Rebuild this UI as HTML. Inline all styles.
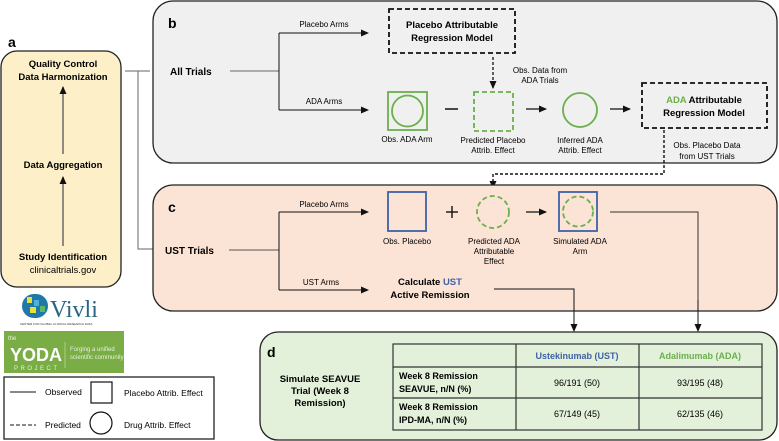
<!DOCTYPE html>
<html><head><meta charset="utf-8"><style>
html,body{margin:0;padding:0;background:#fff;}
svg{display:block;font-family:"Liberation Sans",Arial,sans-serif;}
.b{font-weight:bold;}
</style></head><body>
<svg width="779" height="441" viewBox="0 0 779 441" xmlns="http://www.w3.org/2000/svg">
<defs>
<marker id="ar" markerWidth="8" markerHeight="8" refX="7" refY="4" orient="auto" markerUnits="userSpaceOnUse"><path d="M0,0.5 L8,4 L0,7.5 z" fill="#111"/></marker>
</defs>
<!-- panel a -->
<rect x="1" y="51" width="120" height="236" rx="16" fill="#fdf0c9" stroke="#222" stroke-width="1.3"/>
<text x="8" y="47" font-size="14" class="b">a</text>
<text x="63" y="67" font-size="9.5" class="b" text-anchor="middle">Quality Control</text>
<text x="63" y="80" font-size="9.5" class="b" text-anchor="middle">Data Harmonization</text>
<line x1="63" y1="154" x2="63" y2="87" stroke="#555" stroke-width="1.3" marker-end="url(#ar)"/>
<text x="63" y="168" font-size="9.5" class="b" text-anchor="middle">Data Aggregation</text>
<line x1="63" y1="246" x2="63" y2="177" stroke="#555" stroke-width="1.3" marker-end="url(#ar)"/>
<text x="63" y="260" font-size="9.5" class="b" text-anchor="middle">Study Identification</text>
<text x="63" y="273" font-size="9.5" text-anchor="middle">clinicaltrials.gov</text>
<!-- connectors a to b/c -->
<polyline points="125,71 150,71" fill="none" stroke="#666" stroke-width="1"/>
<polyline points="138,71 138,249 153,249" fill="none" stroke="#666" stroke-width="1"/>
<!-- Vivli -->
<g>
<rect x="22" y="294" width="26" height="24" rx="12" fill="#1f78a8"/>
<rect x="27" y="297" width="5" height="6" fill="#e8e03a"/><rect x="34" y="300" width="5" height="6" fill="#4fb0d8"/><rect x="30" y="307" width="6" height="6" fill="#e8e03a"/><rect x="40" y="306" width="5" height="6" fill="#5db860"/>
<text x="50" y="317" font-size="24" fill="#2a6585" font-family="Liberation Serif,serif">Vivli</text>
<text x="20" y="325" font-size="3" fill="#333">CENTER FOR GLOBAL CLINICAL RESEARCH DATA</text>
</g>
<!-- YODA -->
<rect x="4" y="331" width="120" height="42" fill="#7aad45"/>
<text x="8" y="340" font-size="6" fill="#e8f2dc">the</text>
<text x="10" y="361" font-size="18" fill="#fff" class="b">YODA</text>
<text x="14" y="370" font-size="6" fill="#e8f2dc" letter-spacing="2.5">PROJECT</text>
<line x1="65" y1="342" x2="65" y2="368" stroke="#cfe3b8" stroke-width="0.6"/>
<text x="70" y="351" font-size="6" fill="#e8f2dc">Forging a unified</text>
<text x="70" y="359" font-size="6" fill="#e8f2dc">scientific community</text>
<!-- legend -->
<rect x="4" y="377" width="210" height="62" fill="#fff" stroke="#222" stroke-width="1.3"/>
<line x1="10" y1="392" x2="36" y2="392" stroke="#111" stroke-width="1"/>
<text x="45" y="395" font-size="8.5">Observed</text>
<rect x="91" y="382" width="21" height="21" fill="none" stroke="#111" stroke-width="1.2"/>
<text x="124" y="396" font-size="8.5">Placebo Attrib. Effect</text>
<line x1="10" y1="425" x2="36" y2="425" stroke="#111" stroke-width="1" stroke-dasharray="4,2"/>
<text x="45" y="428" font-size="8.5">Predicted</text>
<circle cx="101" cy="423" r="11" fill="none" stroke="#111" stroke-width="1.2"/>
<text x="124" y="428" font-size="8.5">Drug Attrib. Effect</text>

<!-- panel b -->
<rect x="153" y="1" width="624" height="162" rx="20" fill="#f0f0f0" stroke="#222" stroke-width="1.3"/>
<text x="168" y="28" font-size="14" class="b">b</text>
<text x="170" y="75" font-size="10" class="b">All Trials</text>
<line x1="230" y1="71" x2="279" y2="71" stroke="#666" stroke-width="1"/>
<line x1="279" y1="33" x2="279" y2="110" stroke="#111" stroke-width="1"/>
<line x1="279" y1="33" x2="368" y2="33" stroke="#111" stroke-width="1" marker-end="url(#ar)"/>
<line x1="279" y1="110" x2="368" y2="110" stroke="#111" stroke-width="1" marker-end="url(#ar)"/>
<text x="324" y="27" font-size="8" text-anchor="middle">Placebo Arms</text>
<text x="324" y="104" font-size="8" text-anchor="middle">ADA Arms</text>
<rect x="389" y="9" width="126" height="44" fill="none" stroke="#111" stroke-width="1.8" stroke-dasharray="5,3"/>
<text x="452" y="28" font-size="9.5" class="b" text-anchor="middle">Placebo Attributable</text>
<text x="452" y="41" font-size="9.5" class="b" text-anchor="middle">Regression Model</text>
<line x1="493" y1="57" x2="493" y2="88" stroke="#111" stroke-width="1.3" stroke-dasharray="3,2" marker-end="url(#ar)"/>
<text x="540" y="73" font-size="8" text-anchor="middle">Obs. Data from</text>
<text x="540" y="83" font-size="8" text-anchor="middle">ADA Trials</text>
<rect x="388" y="92" width="39" height="38" fill="none" stroke="#6ab04c" stroke-width="1.8"/>
<circle cx="407.5" cy="111" r="15.5" fill="none" stroke="#6ab04c" stroke-width="1.8"/>
<line x1="445" y1="109" x2="458" y2="109" stroke="#111" stroke-width="1.5"/>
<rect x="474" y="92" width="39" height="39" fill="none" stroke="#6ab04c" stroke-width="1.8" stroke-dasharray="5,3"/>
<line x1="526" y1="109" x2="546" y2="109" stroke="#111" stroke-width="1.3" marker-end="url(#ar)"/>
<circle cx="580" cy="110" r="17" fill="none" stroke="#6ab04c" stroke-width="1.8"/>
<line x1="610" y1="109" x2="630" y2="109" stroke="#111" stroke-width="1.3" marker-end="url(#ar)"/>
<text x="407" y="142" font-size="8" text-anchor="middle">Obs. ADA Arm</text>
<text x="493" y="143" font-size="8" text-anchor="middle">Predicted Placebo</text>
<text x="493" y="153" font-size="8" text-anchor="middle">Attrib. Effect</text>
<text x="580" y="143" font-size="8" text-anchor="middle">Inferred ADA</text>
<text x="580" y="153" font-size="8" text-anchor="middle">Attrib. Effect</text>
<rect x="642" y="83" width="125" height="45" fill="none" stroke="#111" stroke-width="1.8" stroke-dasharray="5,3"/>
<text x="704" y="103" font-size="9.5" class="b" text-anchor="middle"><tspan fill="#6ab04c">ADA</tspan> Attributable</text>
<text x="704" y="116" font-size="9.5" class="b" text-anchor="middle">Regression Model</text>
<text x="707" y="148" font-size="8" text-anchor="middle">Obs. Placebo Data</text>
<text x="707" y="159" font-size="8" text-anchor="middle">from UST Trials</text>
<polyline points="664,130 664,174 493,174 493,188" fill="none" stroke="#111" stroke-width="1.4" stroke-dasharray="3,2" marker-end="url(#ar)"/>

<!-- panel c -->
<rect x="153" y="185" width="624" height="126" rx="20" fill="#fbe3d6" stroke="#222" stroke-width="1.3"/>
<text x="168" y="212" font-size="14" class="b">c</text>
<text x="165" y="254" font-size="10" class="b">UST Trials</text>
<line x1="229" y1="250" x2="279" y2="250" stroke="#555" stroke-width="1"/>
<line x1="279" y1="212" x2="279" y2="290" stroke="#111" stroke-width="1"/>
<line x1="279" y1="212" x2="368" y2="212" stroke="#111" stroke-width="1" marker-end="url(#ar)"/>
<line x1="279" y1="290" x2="368" y2="290" stroke="#111" stroke-width="1" marker-end="url(#ar)"/>
<text x="324" y="207" font-size="8" text-anchor="middle">Placebo Arms</text>
<text x="321" y="285" font-size="8" text-anchor="middle">UST Arms</text>
<rect x="388" y="192" width="38" height="39" fill="none" stroke="#3e62a8" stroke-width="1.8"/>
<line x1="446" y1="212" x2="458" y2="212" stroke="#111" stroke-width="1.4"/>
<line x1="452" y1="206" x2="452" y2="218" stroke="#111" stroke-width="1.4"/>
<circle cx="493" cy="212" r="16" fill="none" stroke="#6ab04c" stroke-width="1.8" stroke-dasharray="5,3"/>
<line x1="526" y1="212" x2="546" y2="212" stroke="#111" stroke-width="1.3" marker-end="url(#ar)"/>
<rect x="559" y="192" width="38" height="39" fill="none" stroke="#3e62a8" stroke-width="1.8"/>
<circle cx="578" cy="211.5" r="15" fill="none" stroke="#6ab04c" stroke-width="1.8" stroke-dasharray="5,3"/>
<polyline points="610,212 698,212 698,326" fill="none" stroke="#333" stroke-width="1"/>
<line x1="698" y1="300" x2="698" y2="331" stroke="#111" stroke-width="1" marker-end="url(#ar)"/>
<text x="407" y="244" font-size="8" text-anchor="middle">Obs. Placebo</text>
<text x="494" y="244" font-size="8" text-anchor="middle">Predicted ADA</text>
<text x="494" y="254" font-size="8" text-anchor="middle">Attributable</text>
<text x="494" y="264" font-size="8" text-anchor="middle">Effect</text>
<text x="580" y="244" font-size="8" text-anchor="middle">Simulated ADA</text>
<text x="580" y="254" font-size="8" text-anchor="middle">Arm</text>
<text x="430" y="285" font-size="9.5" class="b" text-anchor="middle">Calculate <tspan fill="#3e62a8">UST</tspan></text>
<text x="430" y="298" font-size="9.5" class="b" text-anchor="middle">Active Remission</text>
<polyline points="494,289 574,289 574,326" fill="none" stroke="#111" stroke-width="1"/>
<line x1="574" y1="300" x2="574" y2="331" stroke="#111" stroke-width="1" marker-end="url(#ar)"/>

<!-- panel d -->
<rect x="260" y="332" width="517" height="108" rx="18" fill="#e3f0da" stroke="#222" stroke-width="1.3"/>
<text x="267" y="357" font-size="14" class="b">d</text>
<text x="320" y="382" font-size="9.5" class="b" text-anchor="middle">Simulate SEAVUE</text>
<text x="320" y="394" font-size="9.5" class="b" text-anchor="middle">Trial (Week 8</text>
<text x="320" y="406" font-size="9.5" class="b" text-anchor="middle">Remission)</text>
<g stroke="#333" stroke-width="1.2" fill="none">
<rect x="393" y="344" width="369" height="86"/>
<line x1="516" y1="344" x2="516" y2="430"/>
<line x1="639" y1="344" x2="639" y2="430"/>
<line x1="393" y1="367" x2="762" y2="367"/>
<line x1="393" y1="398" x2="762" y2="398"/>
</g>
<text x="577" y="359" font-size="9" class="b" fill="#3e62a8" text-anchor="middle">Ustekinumab (UST)</text>
<text x="700" y="359" font-size="9" class="b" fill="#6ab04c" text-anchor="middle">Adalimumab (ADA)</text>
<text x="399" y="379" font-size="9" class="b">Week 8 Remission</text>
<text x="399" y="392" font-size="9" class="b">SEAVUE, n/N (%)</text>
<text x="399" y="410" font-size="9" class="b">Week 8 Remission</text>
<text x="399" y="423" font-size="9" class="b">IPD-MA, n/N (%)</text>
<text x="577" y="386" font-size="9" text-anchor="middle">96/191 (50)</text>
<text x="700" y="386" font-size="9" text-anchor="middle">93/195 (48)</text>
<text x="577" y="417" font-size="9" text-anchor="middle">67/149 (45)</text>
<text x="700" y="417" font-size="9" text-anchor="middle">62/135 (46)</text>
</svg>
</body></html>
